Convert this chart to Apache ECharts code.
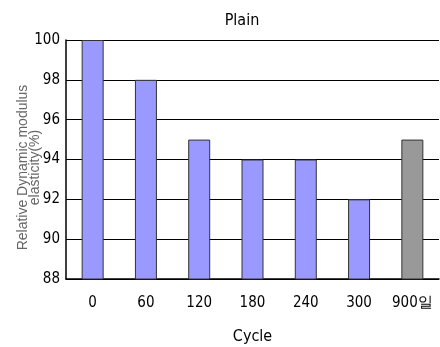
<!DOCTYPE html>
<html><head><meta charset="utf-8">
<script src="https://cdn.jsdelivr.net/npm/echarts@6/dist/echarts.min.js"></script>
<style>html,body{margin:0;padding:0;background:#fff}#c{width:440px;height:347px}</style>
</head><body><div id="c"></div>
<script>
const categories = ['0', '60', '120', '180', '240', '300', '900일'];
const values = [100, 98, 95, 94, 94, 92, 95];
const barColors = ['#9999FF', '#9999FF', '#9999FF', '#9999FF', '#9999FF', '#9999FF', '#999999'];
const yTicks = { min: 88, max: 100, interval: 2 };

const NARROW = '"Liberation Sans Narrow", "DejaVu Sans Condensed", "Liberation Sans", sans-serif';
const chart = echarts.init(document.getElementById('c'), null, { renderer: 'canvas' });
chart.setOption({
  animation: false,
  title: { text: 'Plain', left: 237, top: 8, textAlign: 'center',
    textStyle: { fontFamily: NARROW, fontSize: 16, fontWeight: 'normal', color: '#000' } },
  grid: { left: 66, right: 1, top: 40, bottom: 68, containLabel: false, outerBoundsMode: 'none' },
  xAxis: {
    type: 'category', data: categories,
    name: 'Cycle', nameLocation: 'middle', nameGap: 50, nameMoveOverlap: false,
    nameTextStyle: { fontFamily: NARROW, fontSize: 16, color: '#000' },
    axisLine: { lineStyle: { color: '#000', width: 1.5 } },
    axisTick: { inside: true, length: 5, lineStyle: { color: '#000' } },
    axisLabel: { interval: 0, hideOverlap: false, margin: 17, fontFamily: NARROW, fontSize: 15, color: '#000' }
  },
  yAxis: {
    type: 'value', min: yTicks.min, max: yTicks.max, interval: yTicks.interval,
    name: 'Relative Dynamic modulus\nelasticity(%)', nameLocation: 'middle', nameGap: 25, nameMoveOverlap: false,
    nameTextStyle: { fontFamily: 'Liberation Sans', fontSize: 14, color: '#666', lineHeight: 12, padding: [0, 16, 0, 0] },
    axisLine: { show: true, lineStyle: { color: '#000', width: 1.5 } },
    axisTick: { show: false },
    axisLabel: { margin: 6, fontFamily: NARROW, fontSize: 15, color: '#000' },
    splitLine: { lineStyle: { color: '#000', width: 1 } }
  },
  series: [{
    type: 'bar', barWidth: 22,
    data: values.map((v, i) => ({ value: v, itemStyle: { color: barColors[i] } })),
    itemStyle: { borderColor: '#333', borderWidth: 1 }
  }]
});
</script></body></html>
